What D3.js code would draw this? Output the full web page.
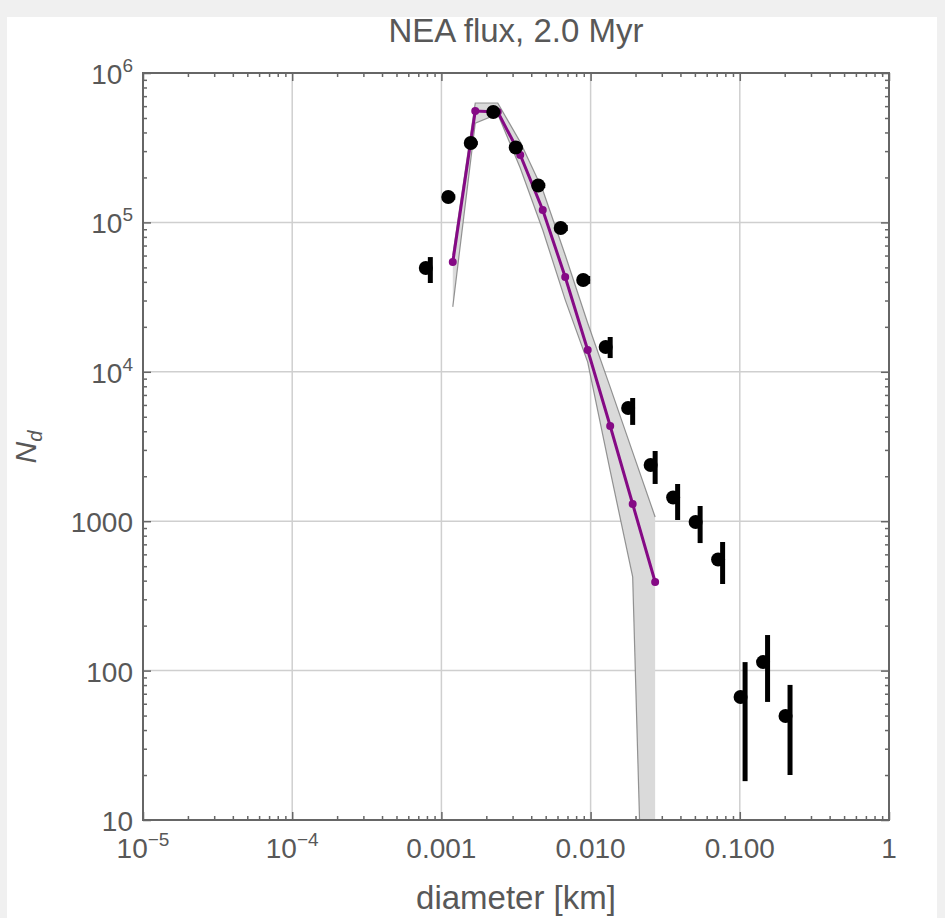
<!DOCTYPE html>
<html>
<head>
<meta charset="utf-8">
<script src="https://cdn.jsdelivr.net/npm/d3@7"></script>
<style>
  body { margin: 0; background: #f0f0f0; }
  text { font-family: "Liberation Sans", Arial, sans-serif; fill: #585858; }
</style>
</head>
<body>
<div id="chart"></div>
<script>
// observed bins (black dots), error bars drawn at bin centre
var obsD = [7.86e-4, 1.112e-3, 1.573e-3, 2.226e-3, 3.149e-3, 4.457e-3, 6.304e-3, 8.92e-3,
            0.01262, 0.01785, 0.02526, 0.03574, 0.05057, 0.07155, 0.1012, 0.1432, 0.2025];
var barD = [8.43e-4, 1.192e-3, 1.686e-3, 2.386e-3, 3.376e-3, 4.778e-3, 6.758e-3, 9.56e-3,
            0.01353, 0.01914, 0.02708, 0.03831, 0.05421, 0.0767, 0.1085, 0.1535, 0.2171];
var obsN  = [49500, 147900, 340000, 548000, 317000, 176600, 91700, 41200,
             14650, 5720, 2380, 1441, 988, 554, 66.6, 114, 49.7];
var obsLo = [39300, 142000, 330000, 535000, 307000, 170000, 87500, 38800,
             12360, 4410, 1775, 1019, 714, 380, 18.2, 61.7, 20.0];
var obsHi = [58600, 154000, 350000, 562000, 327000, 183000, 96000, 43800,
             17100, 6675, 2950, 1775, 1264, 726, 114, 173, 80.2];

// model (purple) with its spread band
var modelD  = [1.192e-3, 1.686e-3, 2.386e-3, 3.376e-3, 4.778e-3, 6.758e-3, 9.56e-3, 0.01353, 0.01914, 0.02708];
var modelN  = [54300, 556600, 548000, 282700, 121000, 43100, 14000, 4340, 1303, 392];
var modelLo = [27200, 462000, 532000, 231000, 88900, 30300, 11600, 2170, 424, 0.002];
var modelHi = [60500, 630000, 630000, 345000, 164800, 60500, 21200, 7900, 2900, 1067];

// tick labels: [base, superscript]
var xTickVals = [1e-5, 1e-4, 1e-3, 1e-2, 1e-1, 1];
var xTickLabels = [["10", "\u22125"], ["10", "\u22124"], ["0.001"], ["0.010"], ["0.100"], ["1"]];
var yTickVals = [10, 100, 1000, 1e4, 1e5, 1e6];
var yTickLabels = [["10"], ["100"], ["1000"], ["10", "4"], ["10", "5"], ["10", "6"]];

var W = 945, H = 918;
var pL = 143, pR = 889, pT = 73, pB = 820;

var svg = d3.select("#chart").append("svg")
    .attr("width", W).attr("height", H);

svg.append("rect").attr("x", 7).attr("y", 17)
    .attr("width", W - 15).attr("height", H - 17)
    .attr("fill", "#fff");

var x = d3.scaleLog().domain([1e-5, 1]).range([pL, pR]);
var y = d3.scaleLog().domain([10, 1e6]).range([pB, pT]);

svg.append("clipPath").attr("id", "plotclip")
  .append("rect").attr("x", pL).attr("y", pT)
    .attr("width", pR - pL).attr("height", pB - pT);

// grid
var grid = svg.append("g").attr("stroke", "#cfcfcf").attr("stroke-width", 1.5);
grid.selectAll("line.gx").data(xTickVals.slice(1, -1)).enter().append("line")
    .attr("x1", function(d) { return x(d); }).attr("x2", function(d) { return x(d); })
    .attr("y1", pT).attr("y2", pB);
grid.selectAll("line.gy").data(yTickVals.slice(1, -1)).enter().append("line")
    .attr("y1", function(d) { return y(d); }).attr("y2", function(d) { return y(d); })
    .attr("x1", pL).attr("x2", pR);

var plot = svg.append("g").attr("clip-path", "url(#plotclip)");

var idx = d3.range(modelD.length);

// band
var area = d3.area()
    .x(function(i) { return x(modelD[i]); })
    .y0(function(i) { return y(modelLo[i]); })
    .y1(function(i) { return y(modelHi[i]); });
plot.append("path").datum(idx).attr("d", area)
    .attr("fill", "#dadada");

var lineLo = d3.line().x(function(i) { return x(modelD[i]); }).y(function(i) { return y(modelLo[i]); });
var lineHi = d3.line().x(function(i) { return x(modelD[i]); }).y(function(i) { return y(modelHi[i]); });
plot.append("path").datum(idx).attr("d", lineLo)
    .attr("fill", "none").attr("stroke", "#7a7a7a").attr("stroke-width", 1.2).attr("stroke-opacity", 0.8);
plot.append("path").datum(idx).attr("d", lineHi)
    .attr("fill", "none").attr("stroke", "#7a7a7a").attr("stroke-width", 1.2).attr("stroke-opacity", 0.8);

// model line
var lineM = d3.line().x(function(i) { return x(modelD[i]); }).y(function(i) { return y(modelN[i]); });
plot.append("path").datum(idx).attr("d", lineM)
    .attr("fill", "none").attr("stroke", "#850a85").attr("stroke-width", 3);
plot.selectAll("circle.m").data(idx).enter().append("circle")
    .attr("cx", function(i) { return x(modelD[i]); })
    .attr("cy", function(i) { return y(modelN[i]); })
    .attr("r", 4).attr("fill", "#850a85");

// observed: error bars + dots
var oidx = d3.range(obsD.length);
plot.selectAll("line.err").data(oidx).enter().append("line")
    .attr("x1", function(i) { return x(barD[i]); }).attr("x2", function(i) { return x(barD[i]); })
    .attr("y1", function(i) { return y(obsLo[i]); }).attr("y2", function(i) { return y(obsHi[i]); })
    .attr("stroke", "#000").attr("stroke-width", 5);
plot.selectAll("circle.o").data(oidx).enter().append("circle")
    .attr("cx", function(i) { return x(obsD[i]); })
    .attr("cy", function(i) { return y(obsN[i]); })
    .attr("r", 7).attr("fill", "#000");

// ticks on all four sides, inward
var xMinor = x.ticks().filter(function(v) { return xTickVals.indexOf(v) < 0; });
var yMinor = y.ticks().filter(function(v) { return yTickVals.indexOf(v) < 0; });

function tickAxis(axis, vals, size, tr) {
  var g = svg.append("g").attr("transform", tr)
      .call(axis.tickValues(vals).tickSize(size).tickFormat(""));
  g.select(".domain").remove();
  g.selectAll("line").attr("stroke", "#666").attr("stroke-width", 1.5);
  return g;
}
tickAxis(d3.axisBottom(x), xTickVals, -8, "translate(0," + pB + ")");
tickAxis(d3.axisBottom(x), xMinor, -4, "translate(0," + pB + ")");
tickAxis(d3.axisTop(x), xTickVals, -8, "translate(0," + pT + ")");
tickAxis(d3.axisTop(x), xMinor, -4, "translate(0," + pT + ")");
tickAxis(d3.axisLeft(y), yTickVals, -8, "translate(" + pL + ",0)");
tickAxis(d3.axisLeft(y), yMinor, -4, "translate(" + pL + ",0)");
tickAxis(d3.axisRight(y), yTickVals, -8, "translate(" + pR + ",0)");
tickAxis(d3.axisRight(y), yMinor, -4, "translate(" + pR + ",0)");

// frame
svg.append("rect").attr("x", pL).attr("y", pT)
    .attr("width", pR - pL).attr("height", pB - pT)
    .attr("fill", "none").attr("stroke", "#666").attr("stroke-width", 2);

// tick labels
function addLabel(t, parts) {
  t.append("tspan").text(parts[0]);
  if (parts.length > 1) {
    t.append("tspan").attr("dy", -12).attr("font-size", 19).text(parts[1]);
  }
}
svg.selectAll("text.xl").data(xTickVals).enter().append("text")
    .attr("x", function(d) { return x(d); }).attr("y", 858)
    .attr("text-anchor", "middle").attr("font-size", 28)
    .each(function(d, i) { addLabel(d3.select(this), xTickLabels[i]); });
svg.selectAll("text.yl").data(yTickVals).enter().append("text")
    .attr("x", 133).attr("y", function(d) { return y(d) + 11; })
    .attr("text-anchor", "end").attr("font-size", 28)
    .each(function(d, i) { addLabel(d3.select(this), yTickLabels[i]); });

// titles
svg.append("text").attr("x", (pL + pR) / 2).attr("y", 42)
    .attr("text-anchor", "middle").attr("font-size", 33)
    .text("NEA flux, 2.0 Myr");
svg.append("text").attr("x", (pL + pR) / 2).attr("y", 909)
    .attr("text-anchor", "middle").attr("font-size", 33)
    .text("diameter [km]");
var yl = svg.append("text").attr("transform", "translate(36,447) rotate(-90)")
    .attr("text-anchor", "middle").attr("font-size", 30);
yl.append("tspan").attr("font-style", "italic").text("N");
yl.append("tspan").attr("font-style", "italic").attr("font-size", 20).attr("dy", 6).text("d");
</script>
</body>
</html>
